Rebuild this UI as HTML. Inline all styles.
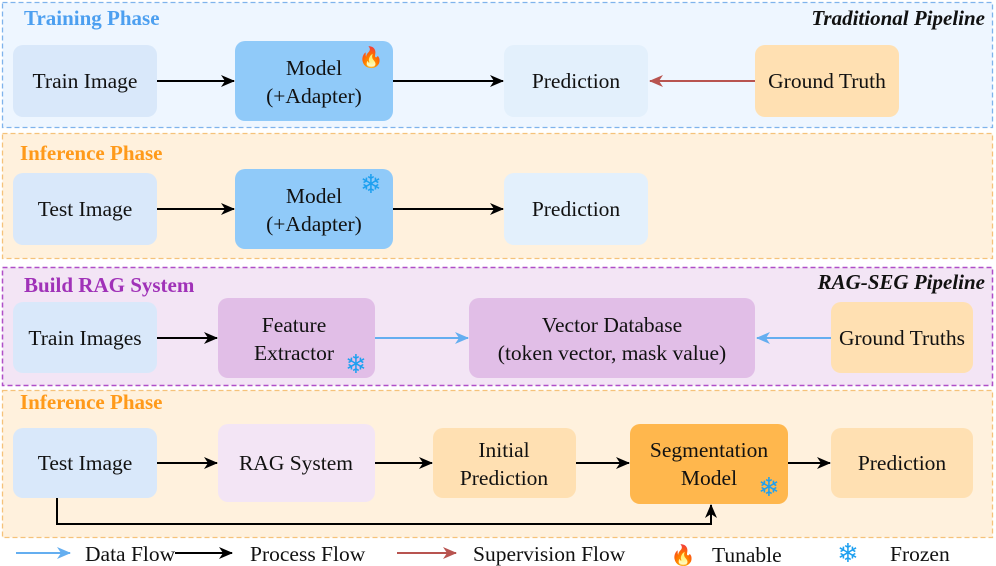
<!DOCTYPE html>
<html><head><meta charset="utf-8"><style>
html,body{margin:0;padding:0;background:#fff}
svg{display:block}
text{font-family:"Liberation Serif",serif;fill:#111}
.t{font-size:21.5px;text-anchor:middle}
.h{font-size:21px;font-weight:bold}
.l{font-size:21.5px}
.sf{font-size:26px;text-anchor:middle;fill:#1ea0f0;font-family:"DejaVu Sans",sans-serif}
</style></head><body>
<svg width="996" height="566" viewBox="0 0 996 566">
<defs>
<marker id="ak" markerWidth="14" markerHeight="14" refX="13" refY="7" orient="auto" markerUnits="userSpaceOnUse"><path d="M0,1 L14,7 L0,13 L4,7z" fill="#000"/></marker>
<marker id="ab" markerWidth="14" markerHeight="14" refX="13" refY="7" orient="auto" markerUnits="userSpaceOnUse"><path d="M0,1 L14,7 L0,13 L4,7z" fill="#64aef0"/></marker>
<marker id="ar" markerWidth="14" markerHeight="14" refX="13" refY="7" orient="auto" markerUnits="userSpaceOnUse"><path d="M0,1 L14,7 L0,13 L4,7z" fill="#b85450"/></marker>
</defs>
<rect x="2.5" y="2.5" width="990" height="125" fill="#eef6ff" stroke="#7fb3ec" stroke-width="1.3" stroke-dasharray="5,3"/>
<rect x="2.5" y="133.5" width="990" height="125" fill="#fff1dd" stroke="#f5c27a" stroke-width="1.3" stroke-dasharray="5,3"/>
<rect x="2.5" y="267.5" width="990" height="118" fill="#f3e5f5" stroke="#b04fc8" stroke-width="1.5" stroke-dasharray="5,3"/>
<rect x="2.5" y="390.5" width="990" height="147" fill="#fff1dd" stroke="#f5c27a" stroke-width="1.3" stroke-dasharray="5,3"/>
<text x="24" y="25" class="h" style="fill:#4c9ff0">Training Phase</text>
<text x="20" y="160" class="h" style="fill:#ff9a1a">Inference Phase</text>
<text x="24" y="292" class="h" style="fill:#a032b8">Build RAG System</text>
<text x="20" y="409" class="h" style="fill:#ff9a1a">Inference Phase</text>
<text x="985" y="25" style="font-size:21px;font-weight:bold;font-style:italic;text-anchor:end">Traditional Pipeline</text>
<text x="985" y="289" style="font-size:21px;font-weight:bold;font-style:italic;text-anchor:end">RAG-SEG Pipeline</text>
<rect x="13" y="45" width="144" height="72" rx="10" fill="#d9e8fa"/>
<text x="85" y="88" class="t">Train Image</text>
<rect x="235" y="41" width="158" height="80" rx="10" fill="#90caf9"/>
<text x="314" y="75" class="t">Model</text><text x="314" y="103" class="t">(+Adapter)</text>
<text x="371" y="64" style="font-size:20px;text-anchor:middle;fill:#ff8a1e">🔥</text>
<rect x="504" y="45" width="144" height="72" rx="10" fill="#e3f0fc"/>
<text x="576" y="88" class="t">Prediction</text>
<rect x="755" y="45" width="144" height="72" rx="10" fill="#ffe0b2"/>
<text x="827" y="88" class="t">Ground Truth</text>
<line x1="157" y1="81" x2="234" y2="81" stroke="#000" stroke-width="2" marker-end="url(#ak)"/>
<line x1="393" y1="81" x2="503" y2="81" stroke="#000" stroke-width="2" marker-end="url(#ak)"/>
<line x1="755" y1="81" x2="650" y2="81" stroke="#b85450" stroke-width="2" marker-end="url(#ar)"/>
<rect x="13" y="173" width="144" height="72" rx="10" fill="#d9e8fa"/>
<text x="85" y="216" class="t">Test Image</text>
<rect x="235" y="169" width="158" height="80" rx="10" fill="#90caf9"/>
<text x="314" y="203" class="t">Model</text><text x="314" y="231" class="t">(+Adapter)</text>
<text x="371" y="193" class="sf">❄</text>
<rect x="504" y="173" width="144" height="72" rx="10" fill="#e3f0fc"/>
<text x="576" y="216" class="t">Prediction</text>
<line x1="157" y1="209" x2="234" y2="209" stroke="#000" stroke-width="2" marker-end="url(#ak)"/>
<line x1="393" y1="209" x2="503" y2="209" stroke="#000" stroke-width="2" marker-end="url(#ak)"/>
<rect x="13" y="302" width="144" height="71" rx="10" fill="#d9e8fa"/>
<text x="85" y="345" class="t">Train Images</text>
<rect x="218" y="298" width="157" height="80" rx="10" fill="#e1bee7"/>
<text x="294" y="332" class="t">Feature</text><text x="294" y="360" class="t">Extractor</text>
<text x="356" y="373" class="sf">❄</text>
<rect x="469" y="298" width="286" height="80" rx="10" fill="#e1bee7"/>
<text x="612" y="332" class="t">Vector Database</text><text x="612" y="360" class="t">(token vector, mask value)</text>
<rect x="831" y="302" width="142" height="71" rx="10" fill="#ffe0b2"/>
<text x="902" y="345" class="t">Ground Truths</text>
<line x1="157" y1="338" x2="217" y2="338" stroke="#000" stroke-width="2" marker-end="url(#ak)"/>
<line x1="375" y1="338" x2="468" y2="338" stroke="#64aef0" stroke-width="2" marker-end="url(#ab)"/>
<line x1="831" y1="338" x2="757" y2="338" stroke="#64aef0" stroke-width="2" marker-end="url(#ab)"/>
<rect x="13" y="428" width="144" height="70" rx="10" fill="#d9e8fa"/>
<text x="85" y="470" class="t">Test Image</text>
<rect x="218" y="424" width="157" height="78" rx="10" fill="#f3e5f5"/>
<text x="296" y="470" class="t">RAG System</text>
<rect x="433" y="428" width="143" height="70" rx="10" fill="#ffe0b2"/>
<text x="504" y="457" class="t">Initial</text><text x="504" y="485" class="t">Prediction</text>
<rect x="630" y="424" width="158" height="80" rx="10" fill="#ffb74d"/>
<text x="709" y="457" class="t">Segmentation</text><text x="709" y="485" class="t">Model</text>
<text x="769" y="496" class="sf">❄</text>
<rect x="831" y="428" width="142" height="70" rx="10" fill="#ffe0b2"/>
<text x="902" y="470" class="t">Prediction</text>
<line x1="157" y1="463" x2="217" y2="463" stroke="#000" stroke-width="2" marker-end="url(#ak)"/>
<line x1="375" y1="463" x2="432" y2="463" stroke="#000" stroke-width="2" marker-end="url(#ak)"/>
<line x1="576" y1="463" x2="629" y2="463" stroke="#000" stroke-width="2" marker-end="url(#ak)"/>
<line x1="788" y1="463" x2="830" y2="463" stroke="#000" stroke-width="2" marker-end="url(#ak)"/>
<polyline points="57,498 57,524 711,524 711,505" fill="none" stroke="#000" stroke-width="2" marker-end="url(#ak)"/>
<line x1="16" y1="553" x2="70" y2="553" stroke="#64aef0" stroke-width="2" marker-end="url(#ab)"/>
<text x="85" y="561" class="l">Data Flow</text>
<line x1="175" y1="553" x2="232" y2="553" stroke="#000" stroke-width="2" marker-end="url(#ak)"/>
<text x="250" y="561" class="l">Process Flow</text>
<line x1="397" y1="553" x2="456" y2="553" stroke="#b85450" stroke-width="2" marker-end="url(#ar)"/>
<text x="473" y="561" class="l">Supervision Flow</text>
<text x="683" y="562" style="font-size:20px;text-anchor:middle;fill:#ff8a1e">🔥</text>
<text x="712" y="562" class="l">Tunable</text>
<text x="848" y="562" class="sf">❄</text>
<text x="890" y="561" class="l">Frozen</text>
</svg>
</body></html>
